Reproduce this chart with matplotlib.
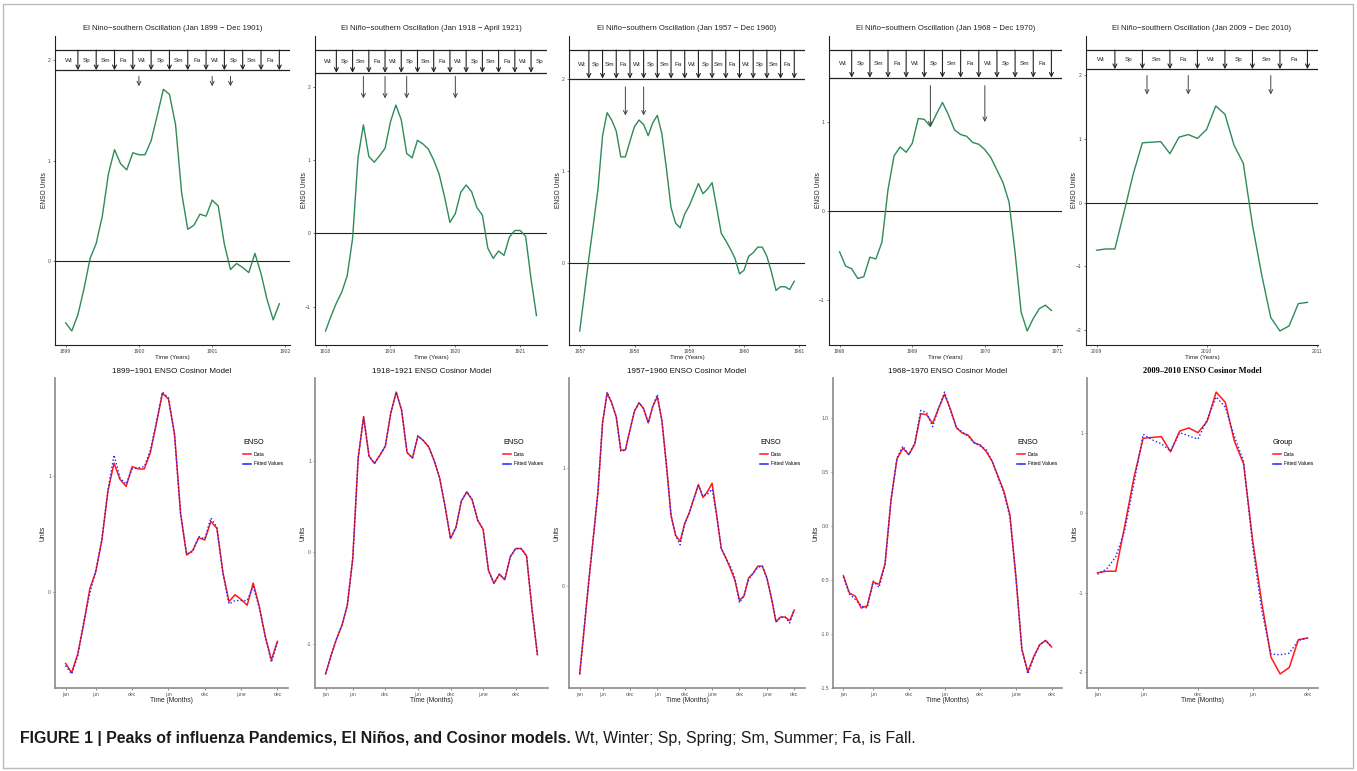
import matplotlib
matplotlib.use("Agg")
import matplotlib.pyplot as plt
from matplotlib.lines import Line2D
from matplotlib.patches import Rectangle
import numpy as np

W, H, DPI = 1357, 771, 100
SANS = ["Liberation Sans", "DejaVu Sans"]
plt.rcParams["font.family"] = SANS

# ------------------------------------------------------------------ data
top_titles = [
    "El Nino\u2212southern Oscillation (Jan 1899 \u2212 Dec 1901)",
    "El Ni\u00f1o\u2212southern Oscillation (Jan 1918 \u2212 April 1921)",
    "El Ni\u00f1o\u2212southern Oscillation (Jan 1957 \u2212 Dec 1960)",
    "El Ni\u00f1o\u2212southern Oscillation (Jan 1968 \u2212 Dec 1970)",
    "El Ni\u00f1o\u2212southern Oscillation (Jan 2009 \u2212 Dec 2010)",
]
bottom_titles = [
    "1899\u22121901 ENSO Cosinor Model",
    "1918\u22121921 ENSO Cosinor Model",
    "1957\u22121960 ENSO Cosinor Model",
    "1968\u22121970 ENSO Cosinor Model",
    "2009\u20132010 ENSO Cosinor Model",
]
start_years = [1899, 1918, 1957, 1968, 2009]

enso_1899 = [-0.61, -0.69, -0.53, -0.27, 0.03, 0.18, 0.45, 0.87, 1.11, 0.97, 0.91, 1.08,
             1.06, 1.06, 1.20, 1.45, 1.71, 1.66, 1.36, 0.68, 0.32, 0.36, 0.47, 0.45,
             0.61, 0.55, 0.17, -0.08, -0.02, -0.06, -0.11, 0.08, -0.12, -0.38, -0.58, -0.42]
fit_1899 = [-0.63, -0.70, -0.55, -0.25, -0.01, 0.19, 0.46, 0.88, 1.18, 0.98, 0.93, 1.06,
            1.07, 1.08, 1.22, 1.46, 1.72, 1.67, 1.35, 0.67, 0.33, 0.35, 0.48, 0.46,
            0.64, 0.56, 0.16, -0.10, -0.07, -0.07, -0.07, 0.05, -0.13, -0.38, -0.60, -0.43]

enso_1918 = [-1.33, -1.13, -0.95, -0.80, -0.58, -0.07, 1.03, 1.48, 1.05, 0.97, 1.06, 1.16,
             1.52, 1.75, 1.55, 1.09, 1.03, 1.27, 1.22, 1.15, 1.00, 0.81, 0.50, 0.15,
             0.27, 0.56, 0.66, 0.57, 0.35, 0.25, -0.20, -0.34, -0.24, -0.30, -0.05, 0.04,
             0.04, -0.04, -0.62, -1.12]
fit_1918 = [-1.33, -1.13, -0.95, -0.80, -0.58, -0.07, 1.03, 1.48, 1.05, 0.97, 1.06, 1.16,
            1.52, 1.75, 1.55, 1.09, 1.03, 1.27, 1.22, 1.15, 1.00, 0.81, 0.50, 0.15,
            0.27, 0.56, 0.66, 0.58, 0.35, 0.25, -0.20, -0.34, -0.24, -0.30, -0.05, 0.04,
            0.04, -0.04, -0.62, -1.12]

enso_1957 = [-0.74, -0.35, 0.05, 0.42, 0.80, 1.38, 1.63, 1.55, 1.43, 1.15, 1.15, 1.32,
             1.48, 1.55, 1.50, 1.38, 1.52, 1.60, 1.40, 1.02, 0.60, 0.43, 0.38, 0.53,
             0.62, 0.74, 0.86, 0.75, 0.80, 0.87, 0.60, 0.32, 0.24, 0.15, 0.05, -0.12,
             -0.08, 0.07, 0.11, 0.17, 0.17, 0.07, -0.10, -0.30, -0.26, -0.26, -0.29, -0.20]
fit_1957 = [-0.74, -0.34, 0.05, 0.42, 0.80, 1.38, 1.64, 1.55, 1.43, 1.14, 1.15, 1.32,
            1.48, 1.55, 1.50, 1.38, 1.52, 1.62, 1.40, 1.02, 0.60, 0.43, 0.35, 0.53,
            0.62, 0.74, 0.85, 0.76, 0.78, 0.82, 0.60, 0.32, 0.24, 0.17, 0.07, -0.14,
            -0.08, 0.06, 0.11, 0.16, 0.17, 0.07, -0.10, -0.30, -0.26, -0.26, -0.31, -0.20]

enso_1968 = [-0.46, -0.62, -0.65, -0.76, -0.74, -0.52, -0.54, -0.35, 0.24, 0.62, 0.72, 0.66,
             0.76, 1.04, 1.03, 0.95, 1.09, 1.22, 1.08, 0.91, 0.86, 0.84, 0.77, 0.75,
             0.69, 0.60, 0.46, 0.32, 0.10, -0.47, -1.14, -1.35, -1.21, -1.10, -1.06, -1.12]
fit_1968 = [-0.47, -0.63, -0.68, -0.74, -0.76, -0.51, -0.57, -0.36, 0.24, 0.63, 0.74, 0.66,
            0.77, 1.07, 1.05, 0.92, 1.09, 1.24, 1.07, 0.91, 0.87, 0.83, 0.77, 0.74,
            0.71, 0.60, 0.45, 0.30, 0.08, -0.47, -1.14, -1.37, -1.22, -1.10, -1.06, -1.12]

enso_2009 = [-0.75, -0.73, -0.73, -0.15, 0.45, 0.94, 0.95, 0.96, 0.77, 1.03, 1.07, 1.01,
             1.15, 1.52, 1.39, 0.90, 0.62, -0.35, -1.13, -1.81, -2.02, -1.94, -1.59, -1.57]
fit_2009 = [-0.77, -0.70, -0.55, -0.21, 0.38, 0.99, 0.92, 0.87, 0.78, 1.01, 0.97, 0.93,
            1.17, 1.46, 1.33, 0.96, 0.65, -0.42, -1.23, -1.77, -1.78, -1.76, -1.60, -1.57]

enso_data = [enso_1899, enso_1918, enso_1957, enso_1968, enso_2009]
fitted_data = [fit_1899, fit_1918, fit_1957, fit_1968, fit_2009]

season_cycle = ["Wt", "Sp", "Sm", "Fa"]
season_counts = [12, 14, 16, 12, 8]          # season labels per panel
season_arrow_months = [
    [2, 5, 8, 11, 14, 17, 20, 23, 26, 29, 32, 35],
    [2, 5, 8, 11, 14, 17, 20, 23, 26, 29, 32, 35, 38],
    [2, 5, 8, 11, 14, 17, 20, 23, 26, 29, 32, 35, 38, 41, 44, 47],
    [2, 5, 8, 11, 14, 17, 20, 23, 26, 29, 32, 35],
    [2, 5, 8, 11, 14, 17, 20, 23],
]
season_box = [(1.90, 2.10), (2.19, 2.50), (2.00, 2.31), (1.50, 1.81), (2.10, 2.40)]
peak_months = [[12, 24, 27], [7, 11, 15, 24], [10, 14], [15, 24], [5.5, 10, 19]]
peak_arrow_y = [[(1.84, 1.74)] * 3, [(2.14, 1.84)] * 4, [(1.91, 1.60)] * 2,
                [(1.41, 0.95), (1.41, 1.00)], [(2.00, 1.70)] * 3]

top_yticks = [[0, 1, 2], [-1, 0, 1, 2], [0, 1, 2], [-1, 0, 1], [-2, -1, 0, 1, 2]]

month_tick_pos = [[0, 5, 11, 17, 23, 29, 35], [0, 5, 11, 17, 23, 29, 35],
                  [0, 5, 11, 17, 23, 29, 35, 41, 47], [0, 5, 11, 17, 23, 29, 35],
                  [0, 5, 11, 17, 23]]
month_tick_lab = [["jan", "jun", "dec", "jun", "dec", "june", "dec"],
                  ["jan", "jun", "dec", "jun", "dec", "june", "dec"],
                  ["jan", "jun", "dec", "jun", "dec", "june", "dec", "june", "dec"],
                  ["jan", "jun", "dec", "jun", "dec", "june", "dec"],
                  ["jan", "jun", "dec", "jun", "dec"]]
bottom_yticks = [[0, 1], [-1, 0, 1], [0, 1], [-1.5, -1.0, -0.5, 0.0, 0.5, 1.0], [-2, -1, 0, 1]]
bottom_ytick_lab = [["0", "1"], ["-1", "0", "1"], ["0", "1"],
                    ["-1.5", "-1.0", "-0.5", "0.0", "0.5", "1.0"], ["-2", "-1", "0", "1"]]
legend_titles = ["ENSO", "ENSO", "ENSO", "ENSO", "Group"]

# ------------------------------------------------------------------ layout (pixels)
top_boxes = [(55, 290), (315, 547), (569, 805), (829, 1062), (1086, 1318)]
bot_boxes = [(55, 288), (315, 548), (569, 805), (833, 1062), (1087, 1318)]
TOP_T, TOP_B = 36, 345
BOT_T, BOT_B = 378, 688

GREEN = "#2E8B57"
RED = "#FF1A1A"
BLUE = "#2222FF"
DARK = "#222222"

fig = plt.figure(figsize=(W / DPI, H / DPI), dpi=DPI)


def add_ax(l, r, t, b):
    return fig.add_axes([l / W, 1 - b / H, (r - l) / W, (b - t) / H])


def ftext(x, y, s, **kw):
    return fig.text(x / W, 1 - y / H, s, **kw)


def expand(lo, hi, f=0.05):
    p = (hi - lo) * f
    return lo - p, hi + p


# frame around the whole figure
fig.patches.append(Rectangle((3 / W, 3 / H), (W - 7) / W, (H - 7) / H,
                             transform=fig.transFigure, fill=False,
                             edgecolor="#bbbbbb", lw=1.0))

# ------------------------------------------------------------------ top row
for p in range(5):
    l, r = top_boxes[p]
    ax = add_ax(l, r, TOP_T, TOP_B)
    y = np.array(enso_data[p])
    n = len(y)
    x = start_years[p] + np.arange(n) / 12.0
    ax.plot(x, y, color=GREEN, lw=1.0, zorder=3)
    ax.axhline(0, color=DARK, lw=0.8)
    x0, x1 = expand(x[0], x[-1])
    ax.set_xlim(x0, x1)
    bb, bt = season_box[p]
    ax.set_ylim(*expand(min(y.min(), bb), max(y.max(), bt)))
    for s in ["top", "right"]:
        ax.spines[s].set_visible(False)
    for s in ["left", "bottom"]:
        ax.spines[s].set_color(DARK)
        ax.spines[s].set_linewidth(0.8)
    ax.axhline(bt, color=DARK, lw=0.9)
    ax.axhline(bb, color=DARK, lw=0.9)
    arrows = season_arrow_months[p]
    for m in arrows:
        xm = start_years[p] + m / 12.0
        ax.annotate("", xy=(xm, bb), xytext=(xm, bt),
                    arrowprops=dict(arrowstyle="->", color=DARK, lw=0.8,
                                    shrinkA=0, shrinkB=0, mutation_scale=7))
    for k in range(season_counts[p]):
        mc = arrows[k] - 1.5 if k < len(arrows) else arrows[-1] + 1.5
        ax.text(start_years[p] + mc / 12.0, (bb + bt) / 2, season_cycle[k % 4],
                ha="center", va="center", fontsize=4.6, color=DARK)
    for m, (ya, yb) in zip(peak_months[p], peak_arrow_y[p]):
        xm = start_years[p] + m / 12.0
        ax.annotate("", xy=(xm, yb), xytext=(xm, ya),
                    arrowprops=dict(arrowstyle="->", color="#444444", lw=0.7,
                                    shrinkA=0, shrinkB=0, mutation_scale=7))
    yrs = np.arange(start_years[p], int(np.floor(x1)) + 1)
    ax.set_xticks(yrs)
    ax.set_xticklabels([str(v) for v in yrs])
    ax.set_yticks(top_yticks[p])
    ax.tick_params(axis="both", labelsize=3.6, length=1.5, width=0.5,
                   colors="#444444", pad=1.5)
    ftext((l + r) / 2, 28, top_titles[p], ha="center", va="center",
          fontsize=5.6, color="#222222")
    ftext((l + r) / 2, 357, "Time (Years)", ha="center", va="center",
          fontsize=4.4, color="#222222")
    ftext(l - 11, (TOP_T + TOP_B) / 2, "ENSO Units", ha="center", va="center",
          rotation=90, fontsize=4.8, color="#222222")

# ------------------------------------------------------------------ bottom row
for p in range(5):
    l, r = bot_boxes[p]
    ax = add_ax(l, r, BOT_T, BOT_B)
    y = np.array(enso_data[p])
    f = np.array(fitted_data[p])
    n = len(y)
    x = np.arange(n)
    ax.plot(x, y, color=RED, lw=1.1, zorder=3)
    ax.plot(x, f, color=BLUE, lw=1.0, ls=(0, (1, 1.6)), zorder=4)
    ax.set_xlim(*expand(0, n - 1))
    ax.set_ylim(*expand(min(y.min(), f.min()), max(y.max(), f.max())))
    for s in ["top", "right"]:
        ax.spines[s].set_visible(False)
    for s in ["left", "bottom"]:
        ax.spines[s].set_color("#8a8a8a")
        ax.spines[s].set_linewidth(1.2)
    ax.set_xticks(month_tick_pos[p])
    ax.set_xticklabels(month_tick_lab[p])
    ax.set_yticks(bottom_yticks[p])
    ax.set_yticklabels(bottom_ytick_lab[p])
    ax.tick_params(axis="both", labelsize=3.6, length=1.5, width=0.5,
                   colors="#555555", pad=1.3)
    handles = [Line2D([], [], color=RED, lw=1.1),
               Line2D([], [], color=BLUE, lw=1.1)]
    leg = ax.legend(handles, ["Data", "Fitted Values"], title=legend_titles[p],
                    loc="upper left",
                    bbox_to_anchor=((r - 45 - l) / (r - l), 1 - (439 - BOT_T) / (BOT_B - BOT_T)),
                    frameon=False, fontsize=3.6, title_fontsize=5.2,
                    handlelength=1.5, handletextpad=0.7, labelspacing=0.95,
                    borderpad=0.0, borderaxespad=0.0)
    leg._legend_box.align = "left"
    leg._legend_box.sep = 4
    if p == 4:
        ftext((l + r) / 2, 371, bottom_titles[p], ha="center", va="center",
              fontsize=6.0, fontweight="bold", family=["Liberation Serif", "DejaVu Serif"])
    else:
        ftext((l + r) / 2, 371, bottom_titles[p], ha="center", va="center",
              fontsize=5.8, color="#111111")
    ftext((l + r) / 2, 700, "Time (Months)", ha="center", va="center",
          fontsize=4.8, color="#222222")
    ux = l - 17 if p == 3 else l - 12
    ftext(ux, (BOT_T + BOT_B) / 2, "Units", ha="center", va="center",
          rotation=90, fontsize=4.8, color="#222222")

# ------------------------------------------------------------------ caption
cap_font = ["Liberation Sans Narrow", "Liberation Sans", "DejaVu Sans"]
t1 = ftext(20, 738, "FIGURE 1 | Peaks of influenza Pandemics, El Ni\u00f1os, and Cosinor models.",
           ha="left", va="center", fontsize=11.5, fontweight="bold",
           family=cap_font, color="#1a1a1a")
fig.canvas.draw()
rend = fig.canvas.get_renderer()
bb1 = t1.get_window_extent(rend)
target = 555.0
t1.set_fontsize(11.5 * target / bb1.width)
fig.canvas.draw()
bb1 = t1.get_window_extent(rend)
fig.text((bb1.x1 + 4) / W, 1 - 738 / H,
         "Wt, Winter; Sp, Spring; Sm, Summer; Fa, is Fall.",
         ha="left", va="center", fontsize=t1.get_fontsize(), family=cap_font,
         color="#1a1a1a")

fig.savefig("out.png", dpi=DPI)
